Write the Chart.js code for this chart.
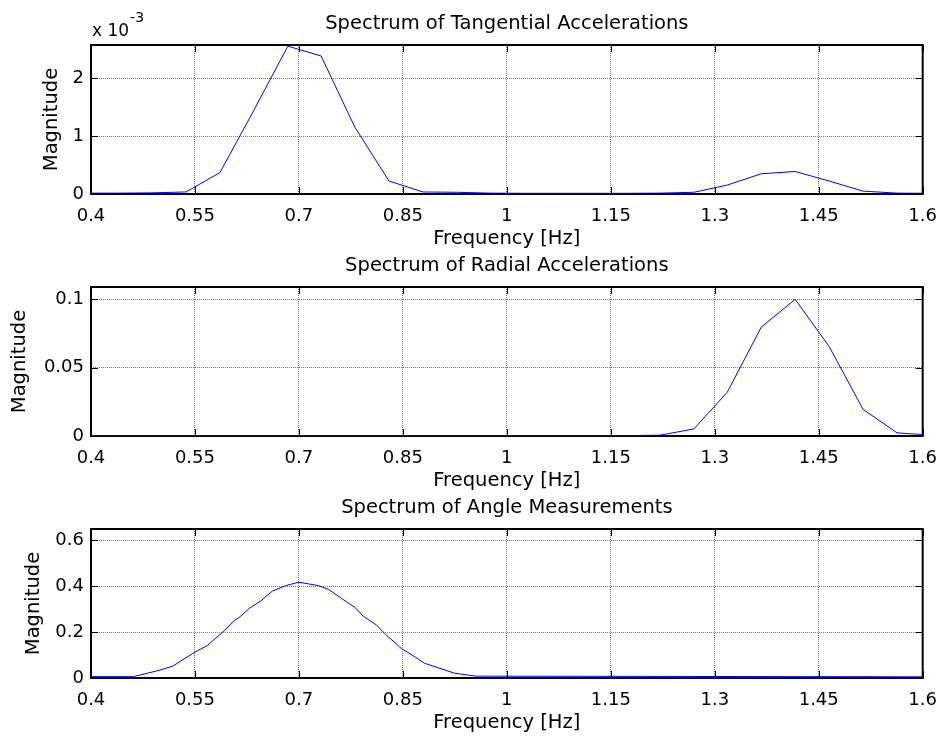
<!DOCTYPE html>
<html>
<head>
<meta charset="utf-8">
<script src="https://cdn.jsdelivr.net/npm/chart.js@4/dist/chart.umd.min.js"></script>
<style>
  html, body { margin: 0; padding: 0; background: #fff; }
  body { position: relative; width: 949px; height: 740px; overflow: hidden; }
  canvas { position: absolute; left: 0; }
</style>
</head>
<body>
<canvas id="tangential" width="949" height="255" style="top:0px"></canvas>
<canvas id="radial" width="949" height="255" style="top:242px"></canvas>
<canvas id="angle" width="949" height="255" style="top:484px"></canvas>
<script>
// FFT bins shared by both acceleration spectra [Hz]
const accelFreq = [0.391, 0.439, 0.488, 0.537, 0.586, 0.635, 0.684, 0.732, 0.781, 0.830, 0.879, 0.928, 0.977,
  1.025, 1.074, 1.123, 1.172, 1.221, 1.270, 1.318, 1.367, 1.416, 1.465, 1.514, 1.563, 1.611]
const tangentialMag = [0.015e-3, 0.015e-3, 0.02e-3, 0.035e-3, 0.37e-3, 1.45e-3, 2.56e-3, 2.39e-3, 1.15e-3, 0.225e-3,
  0.035e-3, 0.03e-3, 0.015e-3, 0.012e-3, 0.012e-3, 0.012e-3, 0.012e-3, 0.015e-3, 0.03e-3, 0.155e-3, 0.35e-3,
  0.39e-3, 0.225e-3, 0.05e-3, 0.015e-3, 0.012e-3]
const radialMag = [0.0003, 0.0003, 0.0003, 0.0003, 0.0003, 0.0003, 0.0003, 0.0003, 0.0003, 0.0003, 0.0003, 0.0003,
  0.0003, 0.0003, 0.0003, 0.0003, 0.0003, 0.0006, 0.0052, 0.032, 0.0796, 0.1, 0.0655, 0.0195, 0.0023, 0.0007]

// angle spectrum (finer resolution)
const angleFreq = [0.38, 0.461, 0.4965, 0.518, 0.549, 0.568, 0.590, 0.6065, 0.614, 0.629, 0.645, 0.6615, 0.681,
  0.6998, 0.7285, 0.743, 0.762, 0.781, 0.793, 0.812, 0.824, 0.843, 0.848, 0.865, 0.8815, 0.9006, 0.9245, 0.9555, 1.65]
const angleMag = [0.006, 0.006, 0.032, 0.052, 0.111, 0.142, 0.200, 0.250, 0.265, 0.305, 0.336, 0.379, 0.403,
  0.418, 0.403, 0.386, 0.346, 0.3075, 0.269, 0.231, 0.193, 0.142, 0.128, 0.097, 0.064, 0.045, 0.021, 0.008, 0.005]

const freqTicks = [0.4, 0.55, 0.7, 0.85, 1, 1.15, 1.3, 1.45, 1.6]
const tangentialTicks = [0, 0.001, 0.002]
const radialTicks = [0, 0.05, 0.1]
const angleTicks = [0, 0.2, 0.4, 0.6]

Chart.defaults.font.family = "'DejaVu Sans', sans-serif"
Chart.defaults.color = '#000'

// axes box with inward tick marks on all four sides
const axesBox = {
  id: 'axesBox',
  beforeDatasetsDraw(chart) {
    const { ctx, chartArea: { left, right, top, bottom }, scales: { x, y } } = chart
    const len = 7
    ctx.save()
    ctx.strokeStyle = '#000'
    ctx.lineWidth = 1
    ctx.beginPath()
    x.ticks.forEach(t => {
      const px = Math.round(x.getPixelForValue(t.value)) + 0.5
      ctx.moveTo(px, bottom); ctx.lineTo(px, bottom - len)
      ctx.moveTo(px, top); ctx.lineTo(px, top + len)
    })
    y.ticks.forEach(t => {
      const py = Math.round(y.getPixelForValue(t.value)) + 0.5
      ctx.moveTo(left, py); ctx.lineTo(left + len, py)
      ctx.moveTo(right, py); ctx.lineTo(right - len, py)
    })
    ctx.stroke()
    ctx.lineWidth = 2
    ctx.strokeRect(left, top, right - left, bottom - top)
    ctx.restore()
  }
}

// "x 10^-3" multiplier above the tangential y axis
const exponentLabel = {
  id: 'exponentLabel',
  afterDraw(chart) {
    const { ctx, chartArea: { left, top } } = chart
    ctx.save()
    ctx.fillStyle = '#000'
    ctx.textBaseline = 'alphabetic'
    ctx.font = "17px 'DejaVu Sans'"
    ctx.fillText('x 10', left + 1, top - 9)
    const w = ctx.measureText('x 10').width
    ctx.font = "14px 'DejaVu Sans'"
    ctx.fillText('-3', left + 2 + w, top - 23)
    ctx.restore()
  }
}

function spectrum(id, { title, freq, mag, yMax, yTicks, yFormat, yTitlePad, plugins = [] }) {
  const grid = { color: 'rgba(0,0,0,0.55)', lineWidth: 1, drawTicks: false }
  const border = { display: false, dash: [1, 1] }
  return new Chart(document.getElementById(id), {
    type: 'line',
    data: {
      datasets: [{
        data: freq.map((f, i) => ({ x: f, y: mag[i] })),
        borderColor: '#0000ff',
        borderWidth: 1,
        pointRadius: 0,
        tension: 0,
        fill: false
      }]
    },
    options: {
      responsive: false,
      animation: false,
      events: [],
      layout: { padding: { left: 0, right: 21, top: 0, bottom: 0 } },
      plugins: {
        legend: { display: false },
        tooltip: { enabled: false },
        title: {
          display: true,
          fullSize: false,
          text: title,
          font: { size: 19.5, weight: 'normal' },
          padding: { top: 12, bottom: 9.6 }
        }
      },
      scales: {
        x: {
          type: 'linear',
          min: 0.4,
          max: 1.6,
          afterBuildTicks: s => { s.ticks = freqTicks.map(v => ({ value: v })) },
          afterFit: s => { s.height = 61 },
          ticks: { autoSkip: false, maxRotation: 0, padding: 12, font: { size: 18 }, callback: v => String(v) },
          grid,
          border,
          title: { display: true, text: 'Frequency [Hz]', font: { size: 19.5 }, padding: { top: 0, bottom: 4 } }
        },
        y: {
          type: 'linear',
          min: 0,
          max: yMax,
          afterBuildTicks: s => { s.ticks = yTicks.map(v => ({ value: v })) },
          afterFit: s => { s.width = 91 },
          ticks: { autoSkip: false, padding: 7, font: { size: 18 }, callback: yFormat },
          grid,
          border,
          title: { display: true, text: 'Magnitude', font: { size: 19.5 }, padding: { top: yTitlePad, bottom: 0 } }
        }
      }
    },
    plugins: [axesBox, ...plugins]
  })
}

spectrum('tangential', {
  title: 'Spectrum of Tangential Accelerations',
  freq: accelFreq,
  mag: tangentialMag,
  yMax: 2.58e-3,
  yTicks: tangentialTicks,
  yFormat: v => String(Math.round(v * 1000)),
  yTitlePad: 40,
  plugins: [exponentLabel]
})

spectrum('radial', {
  title: 'Spectrum of Radial Accelerations',
  freq: accelFreq,
  mag: radialMag,
  yMax: 0.109,
  yTicks: radialTicks,
  yFormat: v => String(v),
  yTitlePad: 8
})

spectrum('angle', {
  title: 'Spectrum of Angle Measurements',
  freq: angleFreq,
  mag: angleMag,
  yMax: 0.65,
  yTicks: angleTicks,
  yFormat: v => String(v),
  yTitlePad: 22
})
</script>
</body>
</html>
